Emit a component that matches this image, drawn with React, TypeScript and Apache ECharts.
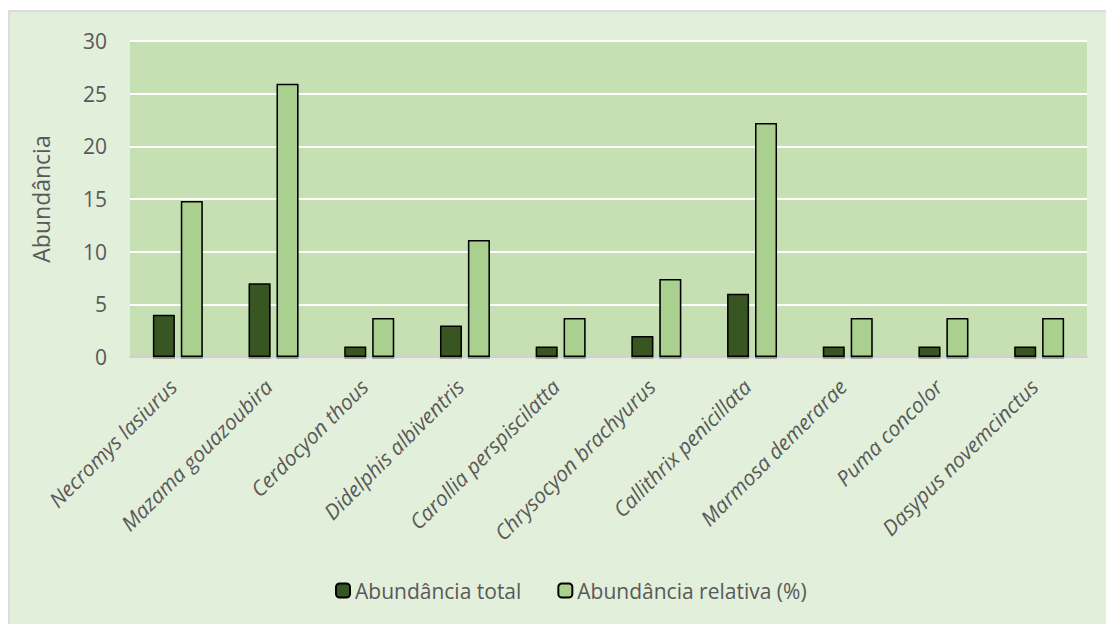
import React, { useEffect, useRef } from "react";
import * as echarts from "echarts";

// Species recorded and their abundance values
const species = [
  "Necromys lasiurus",
  "Mazama gouazoubira",
  "Cerdocyon thous",
  "Didelphis albiventris",
  "Carollia perspiscilatta",
  "Chrysocyon brachyurus",
  "Callithrix penicillata",
  "Marmosa demerarae",
  "Puma concolor",
  "Dasypus novemcinctus",
];
const abundanciaTotal = [4, 7, 1, 3, 1, 2, 6, 1, 1, 1];
const abundanciaRelativa = [14.81, 25.93, 3.7, 11.11, 3.7, 7.41, 22.22, 3.7, 3.7, 3.7];
const yTicks = { min: 0, max: 30, interval: 5 };

const FONT = "'Open Sans', 'Noto Sans', sans-serif";
const TEXT = "#595959";

export default function App() {
  const ref = useRef<HTMLDivElement>(null);

  useEffect(() => {
    if (!ref.current) return;
    const chart = echarts.init(ref.current, null, { renderer: "svg" });
    chart.setOption({
      animation: false,
      backgroundColor: "#ffffff",
      textStyle: { fontFamily: FONT },
      graphic: [
        {
          type: "rect",
          z: -10,
          shape: { x: 9, y: 11, width: 1110, height: 620 },
          style: { fill: "#e2efda", stroke: "#d4d4d4", lineWidth: 1.5 },
          silent: true,
        },
      ],
      grid: {
        left: 130,
        right: 19,
        top: 41,
        bottom: 267,
        show: true,
        backgroundColor: "#c6e0b4",
        borderWidth: 0,
      },
      legend: {
        top: 575,
        left: 330,
        itemWidth: 14,
        itemHeight: 14,
        itemGap: 36,
        textStyle: { color: TEXT, fontSize: 21, fontFamily: FONT },
        data: ["Abundância total", "Abundância relativa (%)"],
      },
      xAxis: {
        type: "category",
        data: species,
        axisTick: { show: false },
        axisLine: { show: true, lineStyle: { color: "#d0d0d0", width: 2 } },
        axisLabel: {
          rotate: 45,
          interval: 0,
          margin: 21,
          padding: [0, 7, 0, 0],
          color: TEXT,
          fontSize: 21,
          fontStyle: "italic",
          fontFamily: FONT,
        },
      },
      yAxis: {
        type: "value",
        min: yTicks.min,
        max: yTicks.max,
        interval: yTicks.interval,
        name: "Abundância",
        nameLocation: "middle",
        nameGap: 78,
        nameTextStyle: { color: TEXT, fontSize: 23, fontFamily: FONT },
        axisLine: { show: false },
        axisTick: { show: false },
        axisLabel: { color: TEXT, fontSize: 21, margin: 23, fontFamily: FONT },
        splitLine: { lineStyle: { color: "#ffffff", width: 2 } },
      },
      series: [
        {
          name: "Abundância total",
          type: "bar",
          data: abundanciaTotal,
          barWidth: 22,
          barGap: "27%",
          itemStyle: {
            color: "#375623",
            borderColor: "#000000",
            borderWidth: 1.5,
            shadowColor: "rgba(0,0,0,0.3)",
            shadowOffsetY: 2,
            shadowBlur: 1,
          },
        },
        {
          name: "Abundância relativa (%)",
          type: "bar",
          data: abundanciaRelativa,
          barWidth: 22,
          itemStyle: {
            color: "#a9d08e",
            borderColor: "#000000",
            borderWidth: 1.5,
            shadowColor: "rgba(0,0,0,0.3)",
            shadowOffsetY: 2,
            shadowBlur: 1,
          },
        },
      ],
    });
    return () => chart.dispose();
  }, []);

  return (
    <div
      ref={ref}
      style={{ position: "fixed", left: 0, top: 0, width: 1106, height: 624 }}
    />
  );
}
